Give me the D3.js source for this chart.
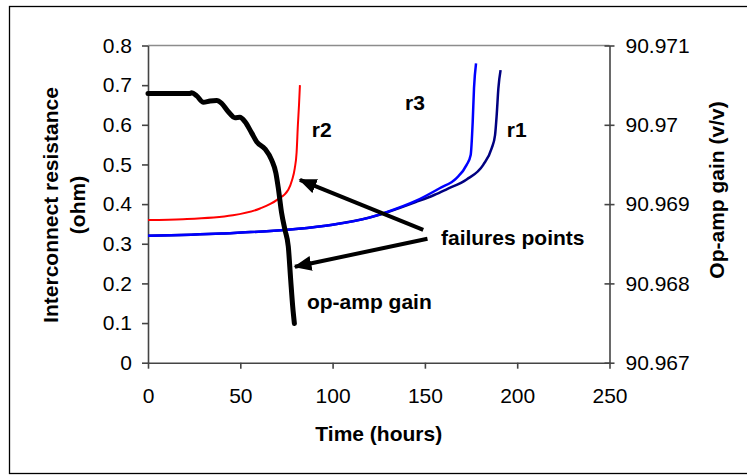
<!DOCTYPE html>
<html>
<head>
<meta charset="utf-8">
<script src="https://cdn.jsdelivr.net/npm/d3@7"></script>
<style>
  body { margin: 0; background: #fff; }
  svg { display: block; }
</style>
</head>
<body>
<div id="chart"></div>
<script>
// time in hours, resistance in ohm
const r1Time = [0, 40, 80, 100, 120, 130, 145, 155, 162, 172.6, 181.6, 186.2, 188, 188.9, 189.8, 191];
const r1Ohm = [0.32, 0.326, 0.337, 0.348, 0.366, 0.38, 0.405, 0.423, 0.438, 0.462, 0.499, 0.541, 0.574, 0.625, 0.692, 0.738];

const r2Time = [0, 19, 46, 60.7, 69.7, 76, 78, 79.5, 80.5, 81.2, 81.8, 82.3];
const r2Ohm = [0.36, 0.362, 0.372, 0.389, 0.41, 0.436, 0.46, 0.49, 0.53, 0.6, 0.65, 0.7];

const r3Time = [0, 40, 80, 100, 120, 130, 145, 158, 167, 172.6, 174.8, 175.9, 176.6, 177.7];
const r3Ohm = [0.32, 0.326, 0.337, 0.348, 0.366, 0.381, 0.408, 0.44, 0.465, 0.499, 0.524, 0.608, 0.692, 0.755];

// op-amp gain (v/v), right axis
const gainTime = [0, 22.8, 23.7, 26.4, 30, 33.6, 37.2, 39.9, 43.5, 47.1, 49.8, 52.5, 56.2, 58.9, 63.4, 67, 69.3, 70.6, 72.4, 74.2, 76, 77.3, 78.4, 79.3];
const gainValue = [90.970395, 90.970395, 90.970405, 90.970365, 90.970285, 90.9703, 90.970305, 90.97027, 90.970165, 90.97009, 90.970095, 90.97004, 90.969895, 90.969785, 90.969695, 90.969555, 90.96939, 90.9692, 90.968885, 90.968675, 90.968465, 90.968045, 90.967705, 90.967495];

const xTicks = [0, 50, 100, 150, 200, 250];
const leftTicks = [0, 0.1, 0.2, 0.3, 0.4, 0.5, 0.6, 0.7, 0.8];
const rightTicks = [90.967, 90.968, 90.969, 90.97, 90.971];

// labels and arrows, in (hours, ohm)
const labels = [
  { text: "r2", t: 88.7, v: 0.587 },
  { text: "r3", t: 139.2, v: 0.655 },
  { text: "r1", t: 194.4, v: 0.587 },
  { text: "failures points", t: 158.7, v: 0.3145 },
  { text: "op-amp gain", t: 86.1, v: 0.154 }
];
const arrows = [
  { from: [149.1, 0.335], to: [82.3, 0.461] },
  { from: [151.4, 0.3125], to: [79.6, 0.242] }
];

const width = 747, height = 476;
const margin = { top: 45.5, right: 137.5, bottom: 113.3, left: 148 };
const w = width - margin.left - margin.right,
  h = height - margin.top - margin.bottom;
const font = "'Liberation Sans', Arial, sans-serif";

const svg = d3.select("#chart").append("svg")
  .attr("width", width)
  .attr("height", height);

// outer frame
svg.append("rect")
  .attr("x", 9.5).attr("y", 6.5)
  .attr("width", 760).attr("height", 467)
  .attr("fill", "none").attr("stroke", "#000").attr("stroke-width", 1.3);

const g = svg.append("g").attr("transform", `translate(${margin.left},${margin.top})`);

const x = d3.scaleLinear().domain([0, 250]).range([0, w]);
const y = d3.scaleLinear().domain([0, 0.8]).range([h, 0]);
const y2 = d3.scaleLinear().domain([90.967, 90.971]).range([h, 0]);

// plot area top border
g.append("line")
  .attr("x1", 0).attr("x2", w).attr("y1", 0).attr("y2", 0)
  .attr("stroke", "#8c8c8c").attr("stroke-width", 1.5);

function styleAxis(sel) {
  sel.attr("font-family", font).attr("font-size", 21);
  sel.selectAll("path, line").attr("stroke", "#444").attr("stroke-width", 1.6);
  sel.selectAll("text").attr("fill", "#000");
}

g.append("g")
  .attr("transform", `translate(0,${h})`)
  .call(d3.axisBottom(x).tickValues(xTicks).tickSize(6).tickSizeOuter(0).tickPadding(19))
  .call(styleAxis);

g.append("g")
  .call(d3.axisLeft(y).tickValues(leftTicks).tickSize(6).tickSizeOuter(0).tickPadding(10)
    .tickFormat(d => String(+d.toFixed(1))))
  .call(styleAxis);

const right = g.append("g")
  .attr("transform", `translate(${w},0)`)
  .call(d3.axisRight(y2).tickValues(rightTicks).tickSize(5).tickSizeOuter(0).tickPadding(11)
    .tickFormat(d => String(+d.toFixed(3))))
  .call(styleAxis);
right.selectAll(".tick line").attr("x1", -5);

// axis titles
svg.append("text")
  .attr("x", margin.left + w / 2).attr("y", 434).attr("dy", "0.35em")
  .attr("text-anchor", "middle")
  .attr("font-family", font).attr("font-size", 21).attr("font-weight", "bold")
  .text("Time (hours)");

const leftTitle = svg.append("text")
  .attr("transform", "translate(51,205) rotate(-90)")
  .attr("text-anchor", "middle")
  .attr("font-family", font).attr("font-size", 21).attr("font-weight", "bold");
leftTitle.append("tspan").attr("x", 0).attr("y", 0).attr("dy", "0.35em").text("Interconnect resistance");
leftTitle.append("tspan").attr("x", 0).attr("y", 27).attr("dy", "0.35em").text("(ohm)");

svg.append("text")
  .attr("transform", "translate(717,190) rotate(-90)")
  .attr("dy", "0.35em")
  .attr("text-anchor", "middle")
  .attr("font-family", font).attr("font-size", 21).attr("font-weight", "bold")
  .text("Op-amp gain (v/v)");

// lines
const line = d3.line().x(d => x(d[0])).y(d => y(d[1])).curve(d3.curveMonotoneX);
const gainLine = d3.line().x(d => x(d[0])).y(d => y2(d[1])).curve(d3.curveMonotoneX);

g.append("path")
  .datum(d3.zip(r2Time, r2Ohm))
  .attr("d", line)
  .attr("fill", "none").attr("stroke", "#ff0000").attr("stroke-width", 2);

g.append("path")
  .datum(d3.zip(r1Time, r1Ohm))
  .attr("d", line)
  .attr("fill", "none").attr("stroke", "#000080").attr("stroke-width", 2.5);

g.append("path")
  .datum(d3.zip(r3Time, r3Ohm))
  .attr("d", line)
  .attr("fill", "none").attr("stroke", "#0000ff").attr("stroke-width", 2.5);

g.append("path")
  .datum(d3.zip(gainTime, gainValue))
  .attr("d", gainLine)
  .attr("fill", "none").attr("stroke", "#000").attr("stroke-width", 5)
  .attr("stroke-linejoin", "round").attr("stroke-linecap", "round");

// arrows
svg.append("defs").append("marker")
  .attr("id", "head")
  .attr("viewBox", "0 0 12 10")
  .attr("refX", 11).attr("refY", 5)
  .attr("markerWidth", 4.5).attr("markerHeight", 3.75)
  .attr("markerUnits", "strokeWidth")
  .attr("orient", "auto")
  .append("path").attr("d", "M0,0L12,5L0,10Z").attr("fill", "#000");

g.selectAll(".arrow")
  .data(arrows)
  .join("line")
  .attr("class", "arrow")
  .attr("x1", d => x(d.from[0])).attr("y1", d => y(d.from[1]))
  .attr("x2", d => x(d.to[0])).attr("y2", d => y(d.to[1]))
  .attr("stroke", "#000").attr("stroke-width", 4)
  .attr("marker-end", "url(#head)");

g.selectAll(".label")
  .data(labels)
  .join("text")
  .attr("class", "label")
  .attr("x", d => x(d.t)).attr("y", d => y(d.v)).attr("dy", "0.35em")
  .attr("font-family", font).attr("font-size", 21).attr("font-weight", "bold")
  .text(d => d.text);
</script>
</body>
</html>
